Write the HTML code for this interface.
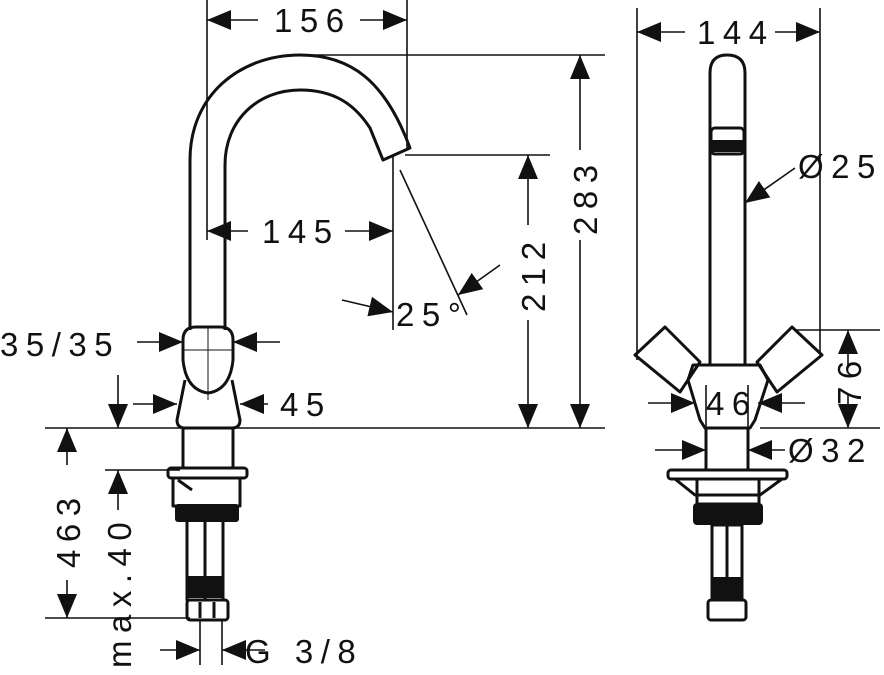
<!DOCTYPE html>
<html><head><meta charset="utf-8"><style>
html,body{margin:0;padding:0;background:#fff}
svg{display:block}
text{font-family:"Liberation Sans",sans-serif;font-size:33px;letter-spacing:7.5px;fill:#111}
</style></head><body>
<svg width="884" height="675" viewBox="0 0 884 675" xmlns="http://www.w3.org/2000/svg">
<defs>
<marker id="a" viewBox="0 0 24 20" refX="24" refY="10" markerWidth="24" markerHeight="20" markerUnits="userSpaceOnUse" orient="auto-start-reverse"><path d="M0,0L24,10L0,20z" fill="#111"/></marker>
</defs>
<g stroke="#111" stroke-width="1.6" fill="none">
<line x1="207" y1="0" x2="207" y2="240"/>
<line x1="407" y1="0" x2="407" y2="150"/>
<line x1="300" y1="55" x2="605" y2="55"/>
<line x1="405" y1="155" x2="550" y2="155"/>
<line x1="45" y1="428" x2="605" y2="428"/>
<line x1="393" y1="155" x2="393" y2="330"/>
<line x1="400" y1="170" x2="467" y2="315"/>
<line x1="45" y1="618" x2="190" y2="618"/>
<line x1="105" y1="470" x2="180" y2="470"/>
<line x1="200" y1="620" x2="200" y2="665"/>
<line x1="222" y1="620" x2="222" y2="665"/>
<line x1="637" y1="8" x2="637" y2="360"/>
<line x1="820" y1="8" x2="820" y2="355"/>
<line x1="795" y1="330" x2="880" y2="330"/>
<line x1="760" y1="428" x2="880" y2="428"/>
<line x1="706" y1="385" x2="706" y2="470"/>
<line x1="748" y1="385" x2="748" y2="470"/>
</g>
<g stroke="#111" stroke-width="1.6" fill="none">
<line x1="207" y1="20" x2="258" y2="20" marker-start="url(#a)"/>
<line x1="360" y1="20" x2="407" y2="20" marker-end="url(#a)"/>
<line x1="580" y1="55" x2="580" y2="150" marker-start="url(#a)"/>
<line x1="580" y1="240" x2="580" y2="428" marker-end="url(#a)"/>
<line x1="528" y1="155" x2="528" y2="225" marker-start="url(#a)"/>
<line x1="528" y1="320" x2="528" y2="428" marker-end="url(#a)"/>
<line x1="207" y1="231" x2="248" y2="231" marker-start="url(#a)"/>
<line x1="345" y1="231" x2="393" y2="231" marker-end="url(#a)"/>
<line x1="342" y1="300" x2="393" y2="312" marker-end="url(#a)"/>
<line x1="500" y1="265" x2="458" y2="295" marker-end="url(#a)"/>
<line x1="137" y1="342" x2="183" y2="342" marker-end="url(#a)"/>
<line x1="280" y1="342" x2="233" y2="342" marker-end="url(#a)"/>
<line x1="133" y1="404" x2="177" y2="404" marker-end="url(#a)"/>
<line x1="268" y1="404" x2="240" y2="404" marker-end="url(#a)"/>
<line x1="67" y1="465" x2="67" y2="428" marker-end="url(#a)"/>
<line x1="67" y1="580" x2="67" y2="618" marker-end="url(#a)"/>
<line x1="118" y1="375" x2="118" y2="428" marker-end="url(#a)"/>
<line x1="118" y1="510" x2="118" y2="470" marker-end="url(#a)"/>
<line x1="160" y1="650" x2="200" y2="650" marker-end="url(#a)"/>
<line x1="265" y1="650" x2="222" y2="650" marker-end="url(#a)"/>
<line x1="637" y1="32" x2="685" y2="32" marker-start="url(#a)"/>
<line x1="775" y1="32" x2="820" y2="32" marker-end="url(#a)"/>
<line x1="795" y1="168" x2="745" y2="203" marker-end="url(#a)"/>
<line x1="848" y1="330" x2="848" y2="368" marker-start="url(#a)"/>
<line x1="848" y1="395" x2="848" y2="428" marker-end="url(#a)"/>
<line x1="648" y1="403" x2="695" y2="403" marker-end="url(#a)"/>
<line x1="805" y1="403" x2="758" y2="403" marker-end="url(#a)"/>
<line x1="655" y1="450" x2="706" y2="450" marker-end="url(#a)"/>
<line x1="785" y1="450" x2="748" y2="450" marker-end="url(#a)"/>
</g>
<g stroke="#111" stroke-width="3" fill="none" stroke-linejoin="round">
<path d="M190,330 L190,160 C190,95 240,55 300,55 C350,55 385,80 410,148 L383,160 L370,128 C355,105 335,90 300,90 C258,90 225,120 225,165 L225,330"/>
<path d="M183,340 Q183,327 196,327 L220,327 Q233,327 233,340 L233,360 Q230,390 208,393 Q186,390 183,360Z"/>
<path d="M185,380 L177,420 Q177,428 185,428 L232,428 Q240,428 240,420 L232,380"/>
<rect x="183" y="428" width="50" height="40"/>
<rect x="168" y="468" width="79" height="10" rx="3"/>
<rect x="173" y="478" width="67" height="28"/>
<line x1="178" y1="480" x2="192" y2="490"/>
<rect x="187" y="520" width="36" height="80"/>
<line x1="205" y1="520" x2="205" y2="600"/>
<rect x="187" y="600" width="41" height="20" rx="3"/>
<line x1="200" y1="602" x2="200" y2="618"/><line x1="214" y1="602" x2="214" y2="618"/>
</g>
<rect x="175" y="504" width="64" height="18" rx="3" fill="#111"/>
<rect x="188" y="576" width="35" height="22" fill="#111"/>
<g stroke="#111" stroke-width="1" fill="none"><line x1="208" y1="327" x2="208" y2="400"/><line x1="183" y1="350" x2="233" y2="350"/></g>
<g stroke="#111" stroke-width="3" fill="none" stroke-linejoin="round">
<path d="M710,365 L710,73 Q710,55 727,55 Q745,55 745,73 L745,365"/>
<path d="M693,365 L760,365 L768,380 L755,420 L750,428 L705,428 L700,420 L688,380Z"/>
<path d="M635,355 L665,327 L700,362 L680,392Z"/>
<path d="M822,355 L792,327 L757,362 L777,392Z"/>
<rect x="706" y="428" width="42" height="42"/>
<rect x="668" y="470" width="119" height="9" rx="3"/>
<path d="M675,479 L695,495 L760,495 L782,479"/>
<rect x="697" y="479" width="62" height="25"/>
<rect x="712" y="525" width="30" height="75"/>
<line x1="727" y1="525" x2="727" y2="600"/>
<rect x="708" y="600" width="38" height="20" rx="3"/>
<rect x="711" y="128" width="33" height="26" rx="4"/>
</g>
<rect x="711" y="140" width="33" height="12" fill="#111"/>
<rect x="693" y="503" width="70" height="22" rx="4" fill="#111"/>
<rect x="712" y="577" width="30" height="22" fill="#111"/>
<text x="274" y="32">156</text>
<text x="697" y="44">144</text>
<text x="262" y="243">145</text>
<text x="396" y="326">25°</text>
<text x="0" y="356">35/35</text>
<text x="280" y="416">45</text>
<text x="706" y="415">46</text>
<text x="788" y="462">Ø32</text>
<text x="798" y="178">Ø25</text>
<text x="245" y="663">G 3/8</text>
<text transform="translate(597,235) rotate(-90)">283</text>
<text transform="translate(545,312) rotate(-90)">212</text>
<text transform="translate(861,405) rotate(-90)">76</text>
<text transform="translate(80,568) rotate(-90)">463</text>
<text transform="translate(131,668) rotate(-90)">max.40</text>
</svg>
</body></html>
